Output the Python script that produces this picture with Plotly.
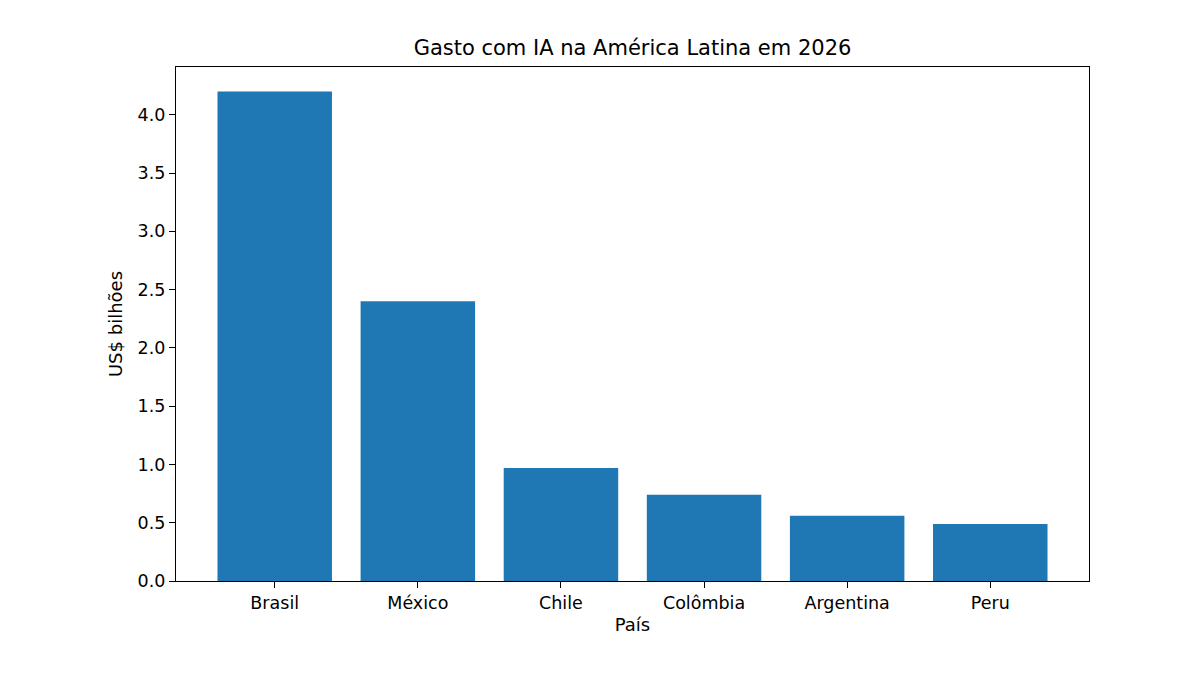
import plotly.graph_objects as go

paises = ["Brasil", "México", "Chile", "Colômbia", "Argentina", "Peru"]
gasto = [4.2, 2.4, 0.97, 0.74, 0.56, 0.49]
y_ticks = [0.0, 0.5, 1.0, 1.5, 2.0, 2.5, 3.0, 3.5, 4.0]

fig = go.Figure(go.Bar(x=list(range(len(paises))), y=gasto, width=0.8,
                       marker=dict(color="#1f77b4", line=dict(width=0))))

axis_style = dict(showline=True, linecolor="black", linewidth=1.2, mirror=True,
                  ticks="outside", ticklen=6, tickwidth=1.2, tickcolor="black",
                  showgrid=False, zeroline=False,
                  tickfont=dict(family="DejaVu Sans", size=17.5, color="black"))

# the page adds ~8px around the plot, so margins are shifted to compensate
fig.update_layout(
    width=1200, height=675,
    paper_bgcolor="white", plot_bgcolor="white",
    margin=dict(l=168, r=119, t=59, b=102),
    title=dict(text="Gasto com IA na América Latina em 2026", x=(168 + 1081) / 2 / 1200,
               xanchor="center", y=1 - 40 / 675, yanchor="middle",
               font=dict(family="DejaVu Sans", size=21, color="black")),
    xaxis=dict(axis_style, tickvals=list(range(len(paises))), ticktext=paises,
               range=[-0.69, 5.69],
               title=dict(text="País", standoff=6,
                          font=dict(family="DejaVu Sans", size=18, color="black"))),
    yaxis=dict(axis_style, tickvals=y_ticks, ticktext=[f"{v:.1f}" for v in y_ticks],
               range=[0, 4.41],
               title=dict(text="US$ bilhões", standoff=10,
                          font=dict(family="DejaVu Sans", size=18, color="black"))),
    showlegend=False,
)

fig.write_html("out.html")
